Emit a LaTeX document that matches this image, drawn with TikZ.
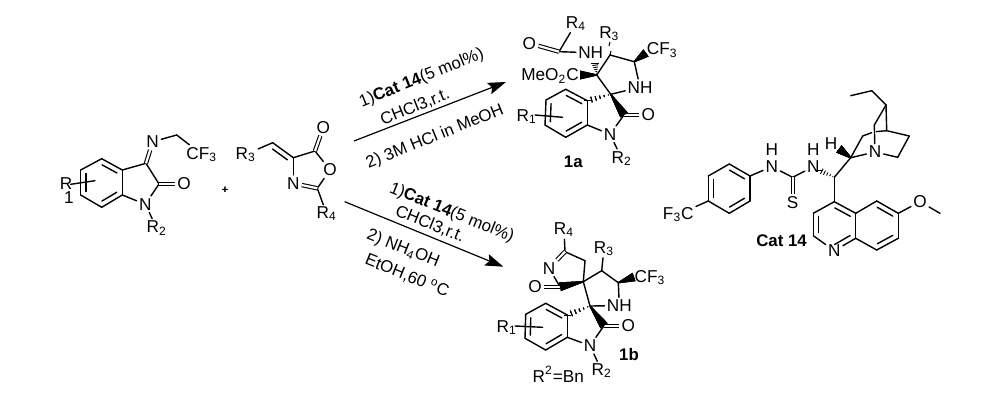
\documentclass[tikz,border=0pt]{standalone}
\usepackage{fontspec}
\setmainfont{Liberation Sans}
\usetikzlibrary{calc,arrows.meta}
\newcommand{\innerbond}[2]{\draw [bond] ($(#1)!0.14!(#2)!2.6pt!90:(#2)$) -- ($(#2)!0.14!(#1)!2.6pt!-90:(#1)$);}
\newcommand{\wedgebond}[2]{\fill ($(#1)!0.3pt!90:(#2)$) -- ($(#2)!2.2pt!-90:(#1)$) -- ($(#2)!2.2pt!90:(#1)$) -- ($(#1)!0.3pt!-90:(#2)$) -- cycle;}
\newcommand{\hashbond}[2]{\foreach \t in {0.1,0.28,...,1}
    \draw [line width=.45pt] ($(#1)!\t!(#2)!{\t*1.8pt}!90:(#2)$) -- ($(#1)!\t!(#2)!{\t*1.8pt}!-90:(#2)$);}
\newcommand{\subs}[1]{\textsubscript{#1}}
\begin{document}
\begin{tikzpicture}[x=.5pt,y=-.5pt,>=stealth,
    bond/.style={line width=.7pt,line cap=round},
    dbond/.style={line width=.55pt,double,double distance=1.1pt},
    atom/.style={inner sep=1pt,font=\fontsize{8.6}{9}\selectfont},
    bold/.style={atom,font=\fontsize{8.4}{9}\selectfont\bfseries},
    cond/.style={inner sep=0pt,font=\fontsize{8.4}{9}\selectfont},
    react/.style={line width=.6pt,-{Stealth[length=9pt,width=6pt,inset=1.5pt]}}]
    \useasboundingbox (0,0) rectangle (1000,406);
    % isatin imine
    \foreach \n/\x/\y in {a1/80.7/170,a2/101.7/158.7,a3/122.3/170,a4/122.3/195,a5/101.7/207.3,a6/80.7/195,
        isathree/146/163.3,isatwo/159/184,ich/176.7/135,subone/70.7/184.3,subtwo/95/180.7}
        \coordinate (\n) at (\x,\y);
    \node [atom] (inn) at (152.7,141.7) {N};
    \node [atom] (icf) at (201.7,154.3) {CF\subs{3}};
    \node [atom] (ioo) at (184,184) {O};
    \node [atom] (ino) at (145.3,204.3) {N};
    \node [atom] (irt) at (156.7,228) {R\subs{2}};
    \node [atom,align=center] (iro) at (66,191) {R\\[-2pt]\hspace*{3pt}1};
    \foreach \u/\v in {a1/a2,a2/a3,a3/a4,a4/a5,a5/a6,a6/a1,a3/isathree,isathree/isatwo,isatwo/ino,a4/ino,ino/irt,inn/ich,ich/icf,subone/subtwo}
        \draw [bond] (\u) -- (\v);
    \draw [dbond] (isathree) -- (inn);
    \draw [dbond] (isatwo) -- (ioo);
    \foreach \u/\v in {a1/a6,a5/a4,a3/a2}
        \innerbond{\u}{\v}
    \node [font=\fontsize{5.5}{7}\selectfont,inner sep=0pt] (plus) at (225,190.7) {+};
    % oxazolone
    \foreach \n/\x/\y in {och/272.7/142.7,ofr/293.3/157.7,ofv/315/151,otw/317.3/188.3}
        \coordinate (\n) at (\x,\y);
    \node [atom] (ort) at (245.7,154.3) {R\subs{3}};
    \node [atom] (ooe) at (323.3,127.3) {O};
    \node [atom] (oor) at (330,170) {O};
    \node [atom] (onn) at (293.3,183.3) {N};
    \node [atom] (orf) at (326.7,214) {R\subs{4}};
    \foreach \u/\v in {ort/och,och/ofr,ofr/ofv,ofv/oor,oor/otw,otw/orf,onn/ofr}
        \draw [bond] (\u) -- (\v);
    \draw [dbond] (ofv) -- (ooe);
    \draw [dbond] (onn) -- (otw);
    \innerbond{ofr}{och}
    % arrows
    \coordinate (upa) at (354,141);
    \coordinate (upb) at (506,82);
    \coordinate (loa) at (344.7,201.7);
    \coordinate (lob) at (503.3,266.7);
    \draw [react] (upa) -- (upb);
    \draw [react] (loa) -- (lob);
    \node [cond,rotate=22] (upone) at (421.7,78.3) {1)\textbf{Cat 14}(5 mol\%)};
    \node [cond,rotate=22] (uptwo) at (415,107) {CHCl3,r.t.};
    \node [cond,rotate=22] (upthree) at (435,137) {2) 3M HCl in MeOH};
    \node [cond,rotate=-22] (loone) at (451.7,213) {1)\textbf{Cat 14}(5 mol\%)};
    \node [cond,rotate=-22] (lotwo) at (430,224) {CHCl3,r.t.};
    \node [cond,rotate=-22] (lothree) at (403,249) {2) NH\subs{4}OH};
    \node [cond,rotate=-22] (lofour) at (407,276) {EtOH,60 \textsuperscript{o}C};
    % product 1a
    \foreach \n/\x/\y in {b1/546/100,b2/565.7/89.3,b3/587.3/100.7,b4/587.3/125,b5/565.7/137.3,b6/545/125,
        bsp/610.7/94.3,btw/624/115,bcf/634.3/61.7,bct/610/55,bfo/596.7/75,bam/559/51.7,bsa/535/115,bsb/562.7/117.3,bwe/580/75}
        \coordinate (\n) at (\x,\y);
    \node [atom] (boo) at (648.3,115) {O};
    \node [atom] (bno) at (610,134.3) {N};
    \node [atom] (brt) at (621.7,158.3) {R\subs{2}};
    \node [atom] (bro) at (526.7,116.7) {R\subs{1}};
    \node [atom] (bnh) at (640,87.3) {NH};
    \node [atom] (bff) at (662.3,50) {CF\subs{3}};
    \node [atom] (brh) at (609.3,33.3) {R\subs{3}};
    \node [atom] (bna) at (590.7,52.7) {NH};
    \node [atom] (bae) at (529.3,43.3) {O};
    \node [atom] (brf) at (576,23.3) {R\subs{4}};
    \node [atom] (bme) at (550,76) {MeO\subs{2}C};
    \node [bold] (bla) at (573.3,161.7) {1a};
    \coordinate (bwf) at (646,53);
    \foreach \u/\v in {b1/b2,b2/b3,b3/b4,b4/b5,b5/b6,b6/b1,btw/bno,b4/bno,bno/brt,bsp/bfo,bsp/bnh,bnh/bcf,bcf/bct,bct/bfo,bna/bam,bam/brf,bsa/bsb}
        \draw [bond] (\u) -- (\v);
    \draw [dbond] (btw) -- (boo);
    \draw [dbond] (bam) -- (bae);
    \foreach \u/\v in {b1/b6,b5/b4,b3/b2}
        \innerbond{\u}{\v}
    \wedgebond{bsp}{btw}
    \wedgebond{bfo}{bwe}
    \wedgebond{bcf}{bwf}
    \hashbond{bsp}{b3}
    \coordinate (bhn) at (595,63);
    \coordinate (bhr) at (610,42);
    \hashbond{bfo}{bhn}
    \draw [line width=.5pt] (bct) -- (611,51) (609,46) -- (bhr);
    % product 1b
    \foreach \n/\x/\y in {c1/525.7/314.3,c2/545.7/303.3,c3/567.3/315,c4/567.3/337.3,c5/545.7/350,c6/525/338.3,
        csp/590/306,ctw/604/325.7,ccf/618.3/282.7,cct/601.7/270.7,cso/583.3/281.7,cch/585/260.7,ccn/565/251.7,cco/560/286.7,csa/515/326,csb/542.7/327.3,cwf/634/277}
        \coordinate (\n) at (\x,\y);
    \node [atom] (coo) at (628.3,325.7) {O};
    \node [atom] (cno) at (590,345.7) {N};
    \node [atom] (crt) at (601.7,370.7) {R\subs{2}};
    \node [atom] (cro) at (506.7,327.3) {R\subs{1}};
    \node [atom] (cnh) at (619.3,305.7) {NH};
    \node [atom] (cff) at (650,277.7) {CF\subs{3}};
    \node [atom] (crh) at (604,248.3) {R\subs{3}};
    \node [atom] (crf) at (564,230) {R\subs{4}};
    \node [atom] (cnn) at (549,268.3) {N};
    \node [atom] (cae) at (535,286.7) {O};
    \node [bold] (clb) at (629,354.3) {1b};
    \node [atom] (cbn) at (558.3,374) {R\textsuperscript{2}=Bn};
    \foreach \u/\v in {c1/c2,c2/c3,c3/c4,c4/c5,c5/c6,c6/c1,ctw/cno,c4/cno,cno/crt,csp/cnh,cnh/ccf,ccf/cct,cct/cso,cso/csp,cct/crh,cso/cch,cch/ccn,ccn/crf,cnn/cco,csa/csb}
        \draw [bond] (\u) -- (\v);
    \draw [dbond] (ctw) -- (coo);
    \draw [dbond] (cco) -- (cae);
    \draw [dbond] (ccn) -- (cnn);
    \foreach \u/\v in {c1/c6,c5/c4,c3/c2}
        \innerbond{\u}{\v}
    \wedgebond{csp}{ctw}
    \wedgebond{cso}{cco}
    \wedgebond{ccf}{cwf}
    \hashbond{csp}{c3}
    % catalyst
    \foreach \n/\x/\y in {d1/708.3/201,d2/708.3/176,d3/729.3/164,d4/750/176,d5/750/201,d6/729.3/213.3,
        dcs/792.7/177.3,dch/834.3/177.3,e1/834.3/201.7,e2/813.3/213.3,e3/813.3/235.7,e4/855.7/238.3,e5/855.7/213.3,
        e6/876.7/201,e7/898.3/213.3,e8/898.3/238.3,e9/876.7/250,eme/940/213.3,
        qa/850.7/157.7,qb/862.7/136,qc/886.7/130.7,qd/909.3/136,qe/897.7/157.3,qt/886/105,qu/874.3/125,qv/871.7/90.7,qw/850.7/95.7,
        qgl/871.6/132.7,qgr/876.4/131.6,qhw/839/149}
        \coordinate (\n) at (\x,\y);
    \node [atom] (dff) at (678.3,214.3) {F\subs{3}C};
    \node [atom] (dnl) at (771.7,166.7) {N};
    \node [atom] (dhl) at (771.7,149.3) {H};
    \node [atom] (dnr) at (813.3,166.7) {N};
    \node [atom] (dhr) at (813.3,149.3) {H};
    \node [atom] (dss) at (792.7,202.3) {S};
    \node [atom] (enn) at (834.3,250.7) {N};
    \node [atom] (eoo) at (920,201.7) {O};
    \node [atom] (qnn) at (875,152) {N};
    \node [atom] (qhh) at (831,144) {H};
    \node [bold] (dla) at (781.5,241) {Cat 14};
    \foreach \u/\v in {d1/d2,d2/d3,d3/d4,d4/d5,d5/d6,d6/d1,d1/dff,d4/dnl,dnl/dcs,dcs/dnr,dch/e1,e1/e2,e2/e3,e3/enn,enn/e4,e4/e5,e5/e1,e5/e6,e6/e7,e7/e8,e8/e9,e9/e4,e7/eoo,eoo/eme,
        dch/qa,qa/qb,qb/qgl,qgr/qc,qa/qnn,qnn/qe,qe/qd,qd/qc,qc/qt,qt/qu,qu/qnn,qt/qv,qv/qw}
        \draw [bond] (\u) -- (\v);
    \draw [dbond] (dcs) -- (dss);
    \foreach \u/\v in {d2/d1,d4/d3,d6/d5,e2/e3,enn/e4,e5/e1,e7/e6,e9/e8}
        \innerbond{\u}{\v}
    \wedgebond{qa}{qhw}
    \coordinate (dhe) at (819,170);
    \hashbond{dch}{dhe}
\end{tikzpicture}
\end{document}
